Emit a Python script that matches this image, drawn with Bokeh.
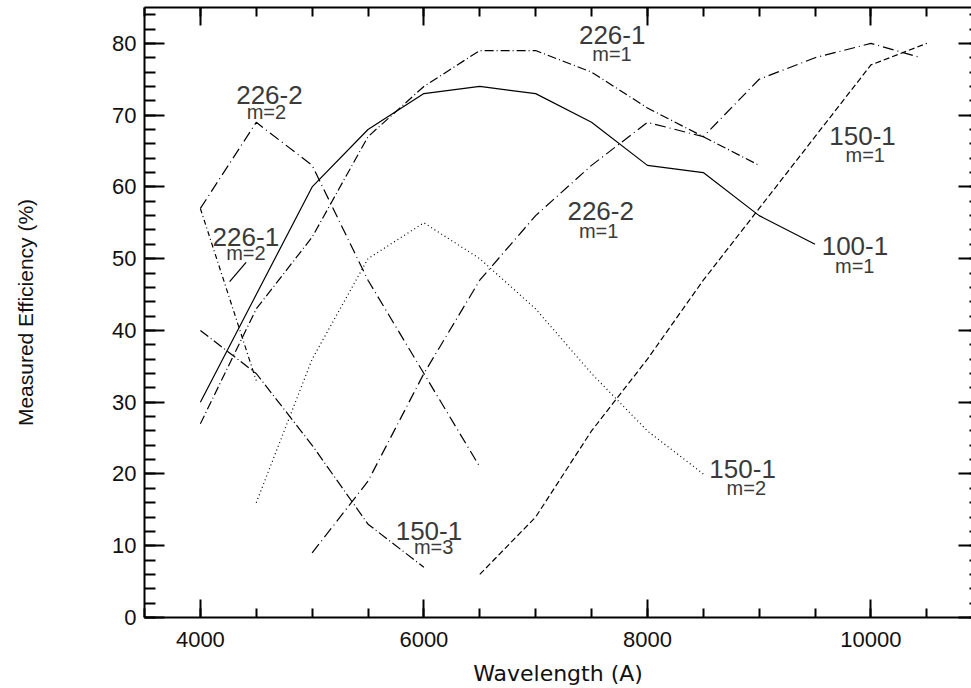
from bokeh.plotting import figure
from bokeh.models import LinearAxis, Range1d, SingleIntervalTicker, ColumnDataSource
from bokeh.core.properties import value
from bokeh.embed import file_html
from bokeh.resources import INLINE

# ---------------- data ----------------
wl_100_1_m1 = [4000, 4500, 5000, 5500, 6000, 6500, 7000, 7500, 8000, 8500, 9000, 9500]
eff_100_1_m1 = [30, 45, 60, 68, 73, 74, 73, 69, 63, 62, 56, 52]

wl_226_1_m1 = [4000, 4500, 5000, 5500, 6000, 6500, 7000, 7500, 8000, 8500, 9000]
eff_226_1_m1 = [27, 43, 53, 67, 74, 79, 79, 76, 71, 67, 63]

wl_226_2_m1 = [5000, 5500, 6000, 6500, 7000, 7500, 8000, 8500, 9000, 9500, 10000, 10450]
eff_226_2_m1 = [9, 19, 34, 47, 56, 63, 69, 67, 75, 78, 80, 78]

wl_150_1_m1 = [6500, 7000, 7500, 8000, 8500, 9000, 9500, 10000, 10500]
eff_150_1_m1 = [6, 14, 26, 36, 47, 57, 67, 77, 80]

wl_150_1_m2 = [4500, 5000, 5500, 6000, 6500, 7000, 7500, 8000, 8500]
eff_150_1_m2 = [16, 36, 50, 55, 50, 43, 34, 26, 20]

wl_226_2_m2 = [4000, 4500, 5000, 5500, 6000, 6500]
eff_226_2_m2 = [57, 69, 63, 47, 34, 21]

wl_226_1_m2 = [4000, 4500]
eff_226_1_m2 = [57, 33]

wl_150_1_m3 = [4000, 4500, 5000, 5500, 6000]
eff_150_1_m3 = [40, 34, 24, 13, 7]

# short sample stroke beside the "226-1 m=2" label
mark_wl = [4262, 4409]
mark_eff = [46.8, 49.5]

# curve labels: grating name and order, with anchor positions in data units
label_names = ["226-1", "226-2", "226-1", "226-2", "150-1", "100-1", "150-1", "150-1"]
label_orders = ["m=1", "m=2", "m=2", "m=1", "m=1", "m=1", "m=2", "m=3"]
name_wl = [7685, 4618, 4407, 7582, 9925, 9857, 8852, 6045]
name_eff = [81.2, 72.85, 53.0, 56.7, 67.1, 51.7, 20.7, 12.0]
order_wl = [7683, 4591, 4407, 7564, 9949, 9855, 8885, 6087]
order_eff = [78.5, 70.5, 50.8, 53.9, 64.5, 49.0, 18.0, 9.8]

x_ticks_interval = 2000
y_ticks_interval = 10

# ---------------- figure ----------------
p = figure(width=971, height=688, output_backend="svg", toolbar_location=None,
           x_range=Range1d(3500, 10900), y_range=Range1d(0, 85),
           x_axis_label="Wavelength (A)", y_axis_label="Measured Efficiency (%)",
           min_border_left=144, min_border_right=0, min_border_top=7, min_border_bottom=70)
p.outline_line_color = None
p.xgrid.visible = False
p.ygrid.visible = False
p.background_fill_color = "white"
p.border_fill_color = "white"

xt = SingleIntervalTicker(interval=x_ticks_interval, num_minor_ticks=4)
yt = SingleIntervalTicker(interval=y_ticks_interval, num_minor_ticks=5)

TICK_FONT = "Liberation Sans"

xa = p.xaxis[0]
xa.ticker = xt
xa.axis_line_width = 2
xa.major_tick_in = 18
xa.major_tick_out = 0
xa.minor_tick_in = 9
xa.minor_tick_out = 0
xa.major_tick_line_width = 2
xa.minor_tick_line_width = 2
xa.major_label_text_font = TICK_FONT
xa.major_label_text_font_size = "22px"
xa.major_label_text_color = "#111111"
xa.major_label_standoff = 14
xa.axis_label_text_font = "DejaVu Sans"
xa.axis_label_text_font_size = "22px"
xa.axis_label_text_font_style = "normal"
xa.axis_label_text_color = "#111111"
xa.axis_label_standoff = 11

ya = p.yaxis[0]
ya.ticker = yt
ya.axis_line_width = 2
ya.major_tick_in = 20
ya.major_tick_out = 0
ya.minor_tick_in = 11
ya.minor_tick_out = 0
ya.major_tick_line_width = 2
ya.minor_tick_line_width = 2
ya.major_label_text_font = TICK_FONT
ya.major_label_text_font_size = "22px"
ya.major_label_text_color = "#111111"
ya.major_label_standoff = 8
ya.axis_label_text_font = "Liberation Sans"
ya.axis_label_text_font_size = "21px"
ya.axis_label_text_font_style = "normal"
ya.axis_label_text_color = "#111111"
ya.axis_label_standoff = 72

top = LinearAxis(ticker=SingleIntervalTicker(interval=x_ticks_interval, num_minor_ticks=4))
top.axis_line_width = 2
top.major_tick_in = 18
top.major_tick_out = 0
top.minor_tick_in = 9
top.minor_tick_out = 0
top.major_tick_line_width = 2
top.minor_tick_line_width = 2
top.major_label_text_font_size = "1px"
top.major_label_text_color = None
top.major_label_text_alpha = 0
top.major_label_standoff = 0
p.add_layout(top, "above")

right = LinearAxis(ticker=SingleIntervalTicker(interval=y_ticks_interval, num_minor_ticks=5))
right.axis_line_color = None
right.major_tick_in = 13
right.major_tick_out = 0
right.minor_tick_in = 2
right.minor_tick_out = 0
right.major_tick_line_width = 2
right.minor_tick_line_width = 2
right.major_label_text_font_size = "1px"
right.major_label_text_color = None
right.major_label_text_alpha = 0
right.major_label_standoff = 0
p.add_layout(right, "right")

# ---------------- curves ----------------
LW = 1.2
p.line(wl_100_1_m1, eff_100_1_m1, line_color="black", line_width=LW)
p.line(wl_226_1_m1, eff_226_1_m1, line_color="black", line_width=LW, line_dash="9 3 1 3")
p.line(wl_226_2_m1, eff_226_2_m1, line_color="black", line_width=LW, line_dash="11 4 1 4")
p.line(wl_150_1_m1, eff_150_1_m1, line_color="black", line_width=LW, line_dash="6 3")
p.line(wl_150_1_m2, eff_150_1_m2, line_color="black", line_width=LW, line_dash="1 3")
p.line(wl_226_2_m2, eff_226_2_m2, line_color="black", line_width=LW, line_dash="11 4 1 4")
p.line(wl_226_1_m2, eff_226_1_m2, line_color="black", line_width=LW, line_dash="5 3 1 3")
p.line(wl_150_1_m3, eff_150_1_m3, line_color="black", line_width=LW, line_dash="10 3 1 3")
p.line(mark_wl, mark_eff, line_color="black", line_width=LW)

# ---------------- labels ----------------
src_names = ColumnDataSource(dict(x=name_wl, y=name_eff, t=label_names))
src_orders = ColumnDataSource(dict(x=order_wl, y=order_eff, t=label_orders))
p.text(x="x", y="y", text="t", source=src_names, text_align="center",
       text_baseline="alphabetic", text_font=value("Liberation Sans"),
       text_font_size="26px", text_color="#3a3a3a")
p.text(x="x", y="y", text="t", source=src_orders, text_align="center",
       text_baseline="alphabetic", text_font=value("Liberation Sans"),
       text_font_size="20px", text_color="#3a3a3a")

open("out.html", "w").write(file_html(p, INLINE))
